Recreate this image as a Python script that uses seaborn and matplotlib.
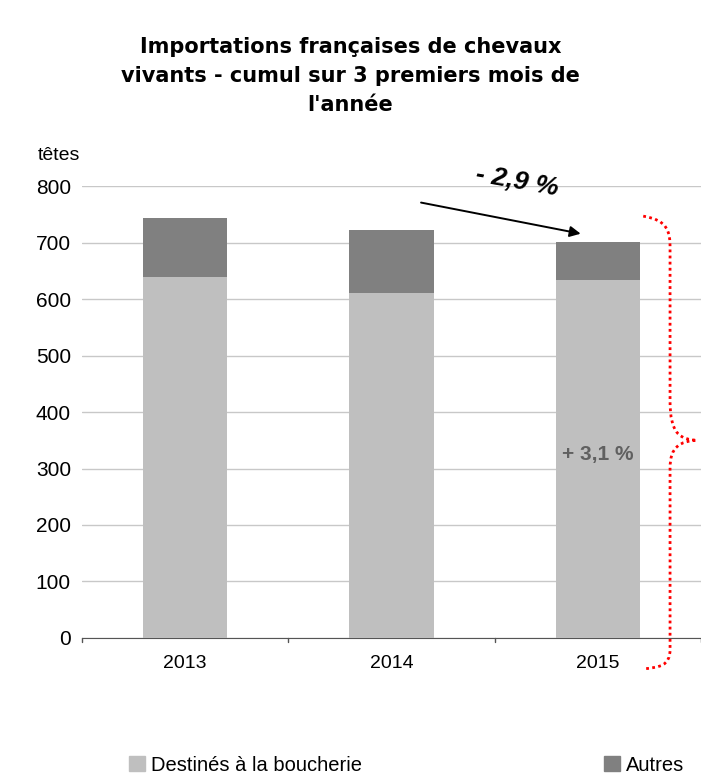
import pandas as pd
import matplotlib.pyplot as plt
import seaborn as sns
from matplotlib.path import Path
from matplotlib.patches import PathPatch, Patch

# Data
years = ['2013', '2014', '2015']
boucherie = [639, 611, 634]
autres = [104, 111, 67]

df = pd.DataFrame({'annee': years, 'boucherie': boucherie, 'autres': autres})
df['total'] = df['boucherie'] + df['autres']

sns.set_style('white')
plt.rcParams['font.family'] = ['Liberation Sans', 'DejaVu Sans']
plt.rcParams['text.color'] = 'black'
plt.rcParams['xtick.color'] = 'black'
plt.rcParams['ytick.color'] = 'black'

fig = plt.figure(figsize=(7.01, 7.76), dpi=100)
ax = fig.add_axes([0.117, 0.178, 0.883, 0.582])

light = '#BFBFBF'
dark = '#808080'

# stacked bars: total first (dark), then boucherie on top (light)
sns.barplot(data=df, x='annee', y='total', color=dark, width=0.41, ax=ax,
            saturation=1, linewidth=0, zorder=2)
sns.barplot(data=df, x='annee', y='boucherie', color=light, width=0.41, ax=ax,
            saturation=1, linewidth=0, zorder=3)

ax.set_ylim(0, 800)
ax.set_yticks(range(0, 801, 100))
ax.set_xlim(-0.5, 2.5)
ax.yaxis.grid(True, color='#C8C8C8', linewidth=1)
ax.set_axisbelow(True)
for s in ['top', 'right', 'left']:
    ax.spines[s].set_visible(False)
ax.spines['bottom'].set_color('#555555')
ax.set_xlabel('')
ax.set_ylabel('')
ax.tick_params(axis='y', labelsize=15, length=0, pad=8, labelcolor='black')
ax.tick_params(axis='x', labelsize=14, length=0, pad=12, labelcolor='black')
# small ticks between categories like the original
for xb in [-0.5, 0.5, 1.5, 2.5]:
    ax.plot([xb, xb], [0, -8], color='#555555', lw=1, clip_on=False)

fig.text(0.054, 0.800, 'têtes', fontsize=14, ha='left', va='center')

fig.text(0.5, 0.902,
         "Importations françaises de chevaux\nvivants - cumul sur 3 premiers mois de\nl'année",
         ha='center', va='center', fontsize=15, fontweight='bold', linespacing=1.55,
         family='DejaVu Sans')

# arrow and annotations
ax.annotate('', xy=(1.93, 715), xytext=(1.13, 772),
            arrowprops=dict(arrowstyle='-|>', color='black', lw=1.4,
                            mutation_scale=16), annotation_clip=False)
ax.text(1.61, 808, '- 2,9 %', fontsize=19, fontweight='bold', style='italic',
        rotation=-10, ha='center', va='center', clip_on=False)
ax.text(2.0, 325, '+ 3,1 %', fontsize=15, fontweight='bold', color='#606060',
        ha='center', va='center', zorder=5)

# red dotted brace
verts = [(2.22, 747),
         (2.34, 740), (2.35, 720), (2.35, 690),
         (2.35, 420),
         (2.35, 360), (2.40, 352), (2.48, 350),
         (2.40, 348), (2.35, 340), (2.35, 300),
         (2.35, -20),
         (2.35, -50), (2.30, -52), (2.22, -55)]
codes = [Path.MOVETO,
         Path.CURVE4, Path.CURVE4, Path.CURVE4,
         Path.LINETO,
         Path.CURVE4, Path.CURVE4, Path.CURVE4,
         Path.CURVE4, Path.CURVE4, Path.CURVE4,
         Path.LINETO,
         Path.CURVE4, Path.CURVE4, Path.CURVE4]
brace = PathPatch(Path(verts, codes), facecolor='none', edgecolor='red',
                  lw=2, linestyle=(0, (1, 1.2)), clip_on=False, zorder=6)
ax.add_patch(brace)

handles = [Patch(color=light, label='Destinés à la boucherie'),
           Patch(color=dark, label='Autres')]
fig.legend(handles=handles, loc='center', bbox_to_anchor=(0.58, 0.014),
           ncol=2, frameon=False, fontsize=14.5, handlelength=0.8,
           handleheight=0.8, handletextpad=0.3, columnspacing=12.0)

plt.savefig('out.png', dpi=100)
